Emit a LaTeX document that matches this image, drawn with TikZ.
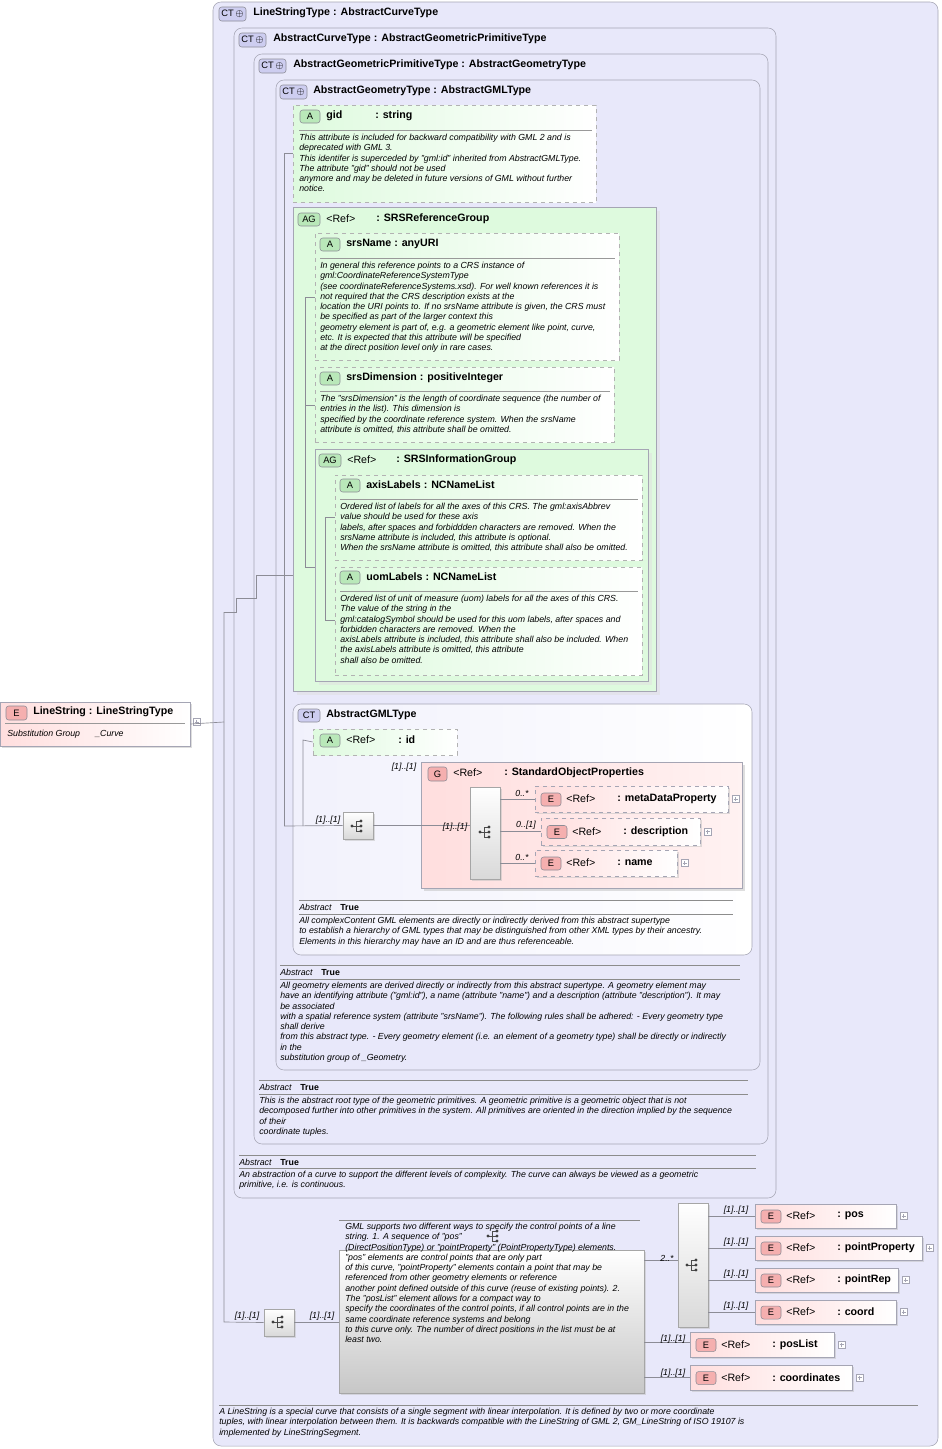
\documentclass[tikz,border=0pt]{standalone}
\usepackage{fontspec}
\setmainfont{Liberation Sans}
\usetikzlibrary{shadows}
\definecolor{cfill}{RGB}{232,232,250}
\definecolor{cline}{RGB}{165,165,180}
\definecolor{gfill}{RGB}{222,250,222}
\definecolor{pfill}{RGB}{255,222,222}
\definecolor{ctbadge}{RGB}{205,205,240}
\definecolor{ebadge}{RGB}{245,175,175}
\definecolor{abadge}{RGB}{185,232,185}
\definecolor{conn}{RGB}{140,140,150}
\newcommand\hfont{\fontsize{8}{9.6}\selectfont\bfseries}
\newcommand\rfont{\fontsize{8}{9.6}\selectfont}
\newcommand\nfont{\fontsize{6.6}{7.7}\selectfont\itshape}
\newcommand\bfnt{\fontsize{7}{8}\selectfont}
% box by corners
\newcommand\bx[6]{\node[#6,inner sep=0pt,minimum width={((#4)-(#2))*0.75pt},minimum height={((#5)-(#3))*0.75pt}] (#1) at ({((#2)+(#4))/2},{((#3)+(#5))/2}) {};}
\newcommand\tx[5]{\node[anchor=west,inner sep=0pt,#4] (#1) at ({#2},{#3}) {#5};}
\newcommand\nt[4]{\node[anchor=north west,align=left,inner sep=0pt,font=\nfont] (#1) at (#2,#3) {#4};}
\newcommand\badge[7]{\bx{#1}{#2}{#3}{#4}{#5}{draw=conn,fill=#6,rounded corners=2pt}\node[font=\bfnt,inner sep=0] at (#1) {#7};}
\newcommand\plusbox[2]{\draw[cline,fill=white] ({#1},{#2-3.5}) rectangle ++(7,7); \draw[cline] ({#1+1.5},{#2})--++(4,0) ({#1+3.5},{#2-2})--++(0,4);}
\newcommand\icon[2]{\draw[black!70,line width=0.6pt] (#1-6,#2)--(#1-2,#2) (#1-2,#2-5)--(#1-2,#2+5) (#1-2,#2-5)--(#1+3,#2-5) (#1-2,#2+5)--(#1+3,#2+5) (#1-2,#2)--(#1+3,#2);
 \foreach \yy in {-5,0,5}{\fill[black!75] (#1+3,#2+\yy) circle (1.6);} \fill[black!75] (#1-6,#2) circle (1.6);}
% element: name x1 y1 x2 y2 dashstyle label
\newcommand\el[7]{\bx{#1}{#2}{#3}{#4}{#5}{draw=cline,#6,left color=pfill,right color=white,drop shadow={shadow xshift=1.5pt,shadow yshift=-1.5pt,fill=black!25}}
 \badge{#1b}{#2+6}{(#3+#5)/2-6}{#2+26}{(#3+#5)/2+7}{ebadge}{E}
 \tx{#1r}{#2+31}{(#3+#5)/2}{font=\rfont}{<Ref>}
 \tx{#1n}{#2+82}{(#3+#5)/2}{font=\hfont}{#7}
 \plusbox{#4+4}{(#3+#5)/2}}
\tikzset{
 ct/.style={draw=cline,fill=cfill,rounded corners=6pt},
 att/.style={draw=black!30,dashed,left color=gfill,right color=white},
 ag/.style={draw=cline,fill=gfill,drop shadow={shadow xshift=3pt,shadow yshift=-3pt,fill=black!12}},
 cn/.style={draw=conn,line width=0.5pt},
 lab/.style={font=\nfont,inner sep=0pt},
 sq/.style={draw=black!35,top color=white,bottom color=black!15,drop shadow={shadow xshift=1.5pt,shadow yshift=-1.5pt,fill=black!25}},
}
\begin{document}
\begin{tikzpicture}[x=0.75pt,y=-0.75pt]
\useasboundingbox (0,0) rectangle (942,1449);
\fill[white] (0,0) rectangle (942,1449);
% containers
\bx{C1}{213}{2}{938}{1446}{ct}
\badge{C1b}{219}{7}{246}{21}{ctbadge}{CT\,$\oplus$}
\tx{C1t}{253}{13}{font=\hfont}{LineStringType : AbstractCurveType}
\bx{C2}{234}{28}{776}{1198}{ct}
\badge{C2b}{239}{33}{266}{47}{ctbadge}{CT\,$\oplus$}
\tx{C2t}{273}{39}{font=\hfont}{AbstractCurveType : AbstractGeometricPrimitiveType}
\bx{C3}{254}{54}{768}{1144}{ct}
\badge{C3b}{259}{59}{286}{73}{ctbadge}{CT\,$\oplus$}
\tx{C3t}{293}{65}{font=\hfont}{AbstractGeometricPrimitiveType : AbstractGeometryType}
\bx{C4}{276}{80}{760}{1070}{ct}
\badge{C4b}{280}{85}{307}{99}{ctbadge}{CT\,$\oplus$}
\tx{C4t}{313}{91}{font=\hfont}{AbstractGeometryType : AbstractGMLType}
% gid
\bx{gid}{293}{105}{596}{202}{att}
\badge{gidb}{300}{110}{320}{123}{abadge}{A}
\tx{gidt}{326}{116}{font=\hfont}{gid}
\tx{gidtt}{375}{116}{font=\hfont}{: string}
\draw[black!40] (299,130)--(592,130);
\nt{gidn}{299}{134}{This attribute is included for backward compatibility with GML 2 and is\\deprecated with GML 3.\\This identifer is superceded by "gml:id" inherited from AbstractGMLType.\\The attribute "gid" should not be used\\anymore and may be deleted in future versions of GML without further\\notice.}
% SRSReferenceGroup
\bx{AG1}{293}{207}{656}{691}{ag}
\badge{AG1b}{298}{213}{320}{226}{abadge}{AG}
\tx{AG1r}{326}{219}{font=\rfont}{<Ref>}
\tx{AG1n}{376}{219}{font=\hfont}{: SRSReferenceGroup}
\bx{srsN}{315}{233}{619}{360}{att}
\badge{srsNb}{320}{238}{340}{251}{abadge}{A}
\tx{srsNt}{346}{244}{font=\hfont}{srsName : anyURI}
\draw[black!40] (320,258)--(615,258);
\nt{srsNn}{320}{262}{In general this reference points to a CRS instance of\\gml:CoordinateReferenceSystemType\\(see coordinateReferenceSystems.xsd). For well known references it is\\not required that the CRS description exists at the\\location the URI points to. If no srsName attribute is given, the CRS must\\be specified as part of the larger context this\\geometry element is part of, e.g. a geometric element like point, curve,\\etc. It is expected that this attribute will be specified\\at the direct position level only in rare cases.}
\bx{srsD}{315}{367}{614}{442}{att}
\badge{srsDb}{320}{372}{340}{385}{abadge}{A}
\tx{srsDt}{346}{378}{font=\hfont}{srsDimension : positiveInteger}
\draw[black!40] (320,391)--(610,391);
\nt{srsDn}{320}{395}{The "srsDimension" is the length of coordinate sequence (the number of\\entries in the list). This dimension is\\specified by the coordinate reference system. When the srsName\\attribute is omitted, this attribute shall be omitted.}
\bx{AG2}{315}{449}{648}{681}{ag}
\badge{AG2b}{319}{454}{341}{467}{abadge}{AG}
\tx{AG2r}{347}{460}{font=\rfont}{<Ref>}
\tx{AG2n}{396}{460}{font=\hfont}{: SRSInformationGroup}
\bx{axL}{335}{475}{642}{560}{att}
\badge{axLb}{340}{479}{360}{492}{abadge}{A}
\tx{axLt}{366}{485}{font=\hfont}{axisLabels : NCNameList}
\draw[black!40] (340,499)--(638,499);
\nt{axLn}{340}{503}{Ordered list of labels for all the axes of this CRS. The gml:axisAbbrev\\value should be used for these axis\\labels, after spaces and forbiddden characters are removed. When the\\srsName attribute is included, this attribute is optional.\\When the srsName attribute is omitted, this attribute shall also be omitted.}
\bx{uoL}{335}{567}{642}{675}{att}
\badge{uoLb}{340}{571}{360}{584}{abadge}{A}
\tx{uoLt}{366}{577}{font=\hfont}{uomLabels : NCNameList}
\draw[black!40] (340,591)--(638,591);
\nt{uoLn}{340}{595}{Ordered list of unit of measure (uom) labels for all the axes of this CRS.\\The value of the string in the\\gml:catalogSymbol should be used for this uom labels, after spaces and\\forbidden characters are removed. When the\\axisLabels attribute is included, this attribute shall also be included. When\\the axisLabels attribute is omitted, this attribute\\shall also be omitted.}
% AbstractGMLType
\bx{GML}{293}{704}{752}{955}{draw=cline,rounded corners=6pt,left color=cfill!60,right color=white}
\badge{GMLb}{298}{709}{320}{722}{ctbadge}{CT}
\tx{GMLt}{326}{715}{font=\hfont}{AbstractGMLType}
\bx{id}{313}{729}{457}{755}{att}
\badge{idb}{320}{734}{340}{747}{abadge}{A}
\tx{idr}{346}{740}{font=\rfont}{<Ref>}
\tx{idn}{398}{740}{font=\hfont}{: id}
\bx{seq1}{343}{812}{373}{839}{sq}
\icon{358}{826}
\bx{G}{421}{762}{742}{888}{draw=cline,left color=pfill,right color=pfill!40,drop shadow={shadow xshift=2.5pt,shadow yshift=-2.5pt,fill=black!25}}
\badge{Gb}{428}{767}{447}{781}{ebadge}{G}
\tx{Gr}{453}{773}{font=\rfont}{<Ref>}
\tx{Gn}{504}{773}{font=\hfont}{: StandardObjectProperties}
\bx{seq2}{470}{787}{500}{879}{sq}
\icon{486}{832}
\el{md}{535}{786}{728}{812}{dashed}{: metaDataProperty}
\el{ds}{541}{818}{700}{845}{dashed}{: description}
\el{nm}{535}{850}{677}{876}{dashed}{: name}
\draw[black!45] (299,900)--(733,900);
\tx{a1}{299}{907}{font=\nfont}{Abstract\quad\upshape\bfseries True}
\draw[black!45] (299,914)--(733,914);
\nt{GMLn}{299}{917}{All complexContent GML elements are directly or indirectly derived from this abstract supertype\\to establish a hierarchy of GML types that may be distinguished from other XML types by their ancestry.\\Elements in this hierarchy may have an ID and are thus referenceable.}
% C4 abstract
\draw[black!45] (280,965)--(740,965);
\tx{a2}{280}{972}{font=\nfont}{Abstract\quad\upshape\bfseries True}
\draw[black!45] (280,979)--(740,979);
\nt{C4n}{280}{982}{All geometry elements are derived directly or indirectly from this abstract supertype. A geometry element may\\have an identifying attribute ("gml:id"), a name (attribute "name") and a description (attribute "description"). It may\\be associated\\with a spatial reference system (attribute "srsName"). The following rules shall be adhered: - Every geometry type\\shall derive\\from this abstract type. - Every geometry element (i.e. an element of a geometry type) shall be directly or indirectly\\in the\\substitution group of \_Geometry.}
% C3 abstract
\draw[black!45] (259,1080)--(748,1080);
\tx{a3}{259}{1087}{font=\nfont}{Abstract\quad\upshape\bfseries True}
\draw[black!45] (259,1094)--(748,1094);
\nt{C3n}{259}{1097}{This is the abstract root type of the geometric primitives. A geometric primitive is a geometric object that is not\\decomposed further into other primitives in the system. All primitives are oriented in the direction implied by the sequence\\of their\\coordinate tuples.}
% C2 abstract
\draw[black!45] (239,1155)--(756,1155);
\tx{a4}{239}{1162}{font=\nfont}{Abstract\quad\upshape\bfseries True}
\draw[black!45] (239,1168)--(756,1168);
\nt{C2n}{239}{1171}{An abstraction of a curve to support the different levels of complexity. The curve can always be viewed as a geometric\\primitive, i.e. is continuous.}
% C1 bottom note
\draw[black!45] (219,1405)--(918,1405);
\nt{C1n}{219}{1408}{A LineString is a special curve that consists of a single segment with linear interpolation. It is defined by two or more coordinate\\tuples, with linear interpolation between them. It is backwards compatible with the LineString of GML 2, GM\_LineString of ISO 19107 is\\implemented by LineStringSegment.}
% LineString element
\bx{LS}{0}{702}{190}{746}{draw=cline,left color=pfill,right color=white,drop shadow={shadow xshift=1.5pt,shadow yshift=-1.5pt,fill=black!25}}
\badge{LSb}{6}{706}{27}{720}{ebadge}{E}
\tx{LSt}{33}{712}{font=\hfont}{LineString : LineStringType}
\draw[black!40] (5,723)--(185,723);
\tx{LSs}{7}{734}{font=\nfont}{Substitution Group}
\tx{LSc}{95}{734}{font=\nfont}{\_Curve}
\plusbox{193}{722}
% bottom sequence
\bx{seq3}{264}{1309}{294}{1336}{sq}
\icon{279}{1322}
\bx{ann}{339}{1250}{644}{1393}{draw=black!35,top color=white,bottom color=black!22,drop shadow={shadow xshift=1.5pt,shadow yshift=-1.5pt,fill=black!25}}
\draw[black!45] (339,1220)--(640,1220);
\icon{494}{1236}
\nt{annn}{345}{1223}{GML supports two different ways to specify the control points of a line\\string. 1. A sequence of "pos"\\(DirectPositionType) or "pointProperty" (PointPropertyType) elements.\\"pos" elements are control points that are only part\\of this curve, "pointProperty" elements contain a point that may be\\referenced from other geometry elements or reference\\another point defined outside of this curve (reuse of existing points). 2.\\The "posList" element allows for a compact way to\\specify the coordinates of the control points, if all control points are in the\\same coordinate reference systems and belong\\to this curve only. The number of direct positions in the list must be at\\least two.}
\bx{ch}{678}{1203}{708}{1327}{sq}
\icon{693}{1265}
\el{pos}{755}{1204}{896}{1228}{solid}{: pos}
\el{pp}{755}{1236}{922}{1260}{solid}{: pointProperty}
\el{pr}{755}{1268}{898}{1292}{solid}{: pointRep}
\el{co}{755}{1300}{896}{1324}{solid}{: coord}
\el{pl}{690}{1332}{834}{1357}{solid}{: posList}
\el{cd}{690}{1365}{852}{1390}{solid}{: coordinates}
% connectors
\draw[cn] (LS.east)--(224,722);
\draw[cn] (224,612)--(224,1322)--(seq3.west);
\draw[cn] (224,612)--(236,612)--(236,598)--(256,598)--(256,575)--(284,575);
\draw[cn] (284,153)--(284,826);
\draw[cn] (284,153)--(gid.west|-284,153);
\draw[cn] (284,575)--(AG1.west|-284,575);
\draw[cn] (305,297)--(305,567);
\draw[cn] (305,297)--(srsN.west|-305,297);
\draw[cn] (305,405)--(srsD.west|-305,405);
\draw[cn] (305,567)--(AG2.west|-305,567);
\draw[cn] (325,517)--(325,620);
\draw[cn] (325,517)--(axL.west|-325,517);
\draw[cn] (325,620)--(uoL.west|-325,620);
\draw[cn] (284,826)--(seq1.west);
\draw[cn] (303,826)--(303,740)--(id.west);
\draw[cn] (seq1.east)--(seq2.west|-seq1.east);
\draw[cn] (500,799)--(md.west|-500,799);
\draw[cn] (500,831)--(ds.west|-500,831);
\draw[cn] (500,863)--(nm.west|-500,863);
\node[lab] at (328,820) {[1]..[1]};
\node[lab] at (404,767) {[1]..[1]};
\node[lab] at (455,827) {[1]..[1]};
\node[lab] at (522,793) {0..*};
\node[lab] at (526,825) {0..[1]};
\node[lab] at (522,857) {0..*};
\draw[cn] (seq3.east)--(ann.west|-seq3.east);
\draw[cn] (644,1260)--(ch.west|-644,1260);
\draw[cn] (644,1342)--(pl.west|-644,1342);
\draw[cn] (644,1377)--(cd.west|-644,1377);
\draw[cn] (708,1216)--(pos.west|-708,1216);
\draw[cn] (708,1248)--(pp.west|-708,1248);
\draw[cn] (708,1280)--(pr.west|-708,1280);
\draw[cn] (708,1312)--(co.west|-708,1312);
\node[lab] at (247,1316) {[1]..[1]};
\node[lab] at (322,1316) {[1]..[1]};
\node[lab] at (667,1258) {2..*};
\node[lab] at (736,1210) {[1]..[1]};
\node[lab] at (736,1242) {[1]..[1]};
\node[lab] at (736,1274) {[1]..[1]};
\node[lab] at (736,1306) {[1]..[1]};
\node[lab] at (673,1339) {[1]..[1]};
\node[lab] at (673,1373) {[1]..[1]};
\end{tikzpicture}
\end{document}
